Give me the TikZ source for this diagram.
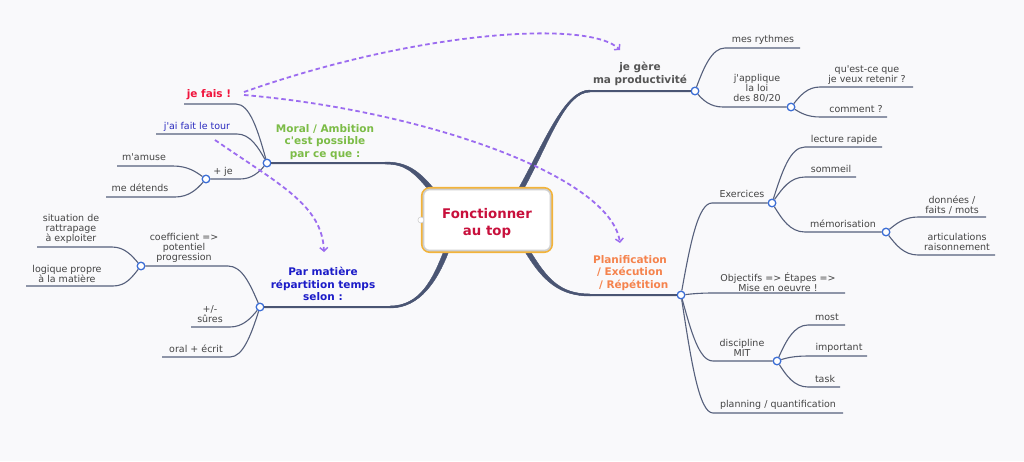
\documentclass[tikz,border=0pt]{standalone}
\usepackage{fontspec}
\setmainfont{DejaVu Sans}
\usetikzlibrary{arrows.meta}
\definecolor{bgc}{RGB}{249,249,251}
\definecolor{linec}{RGB}{86,96,124}
\definecolor{trunkc}{RGB}{74,85,115}
\definecolor{hubc}{RGB}{61,111,214}
\definecolor{txtc}{RGB}{68,68,68}
\definecolor{gerec}{RGB}{85,85,85}
\definecolor{planc}{RGB}{245,131,77}
\definecolor{moralc}{RGB}{124,188,71}
\definecolor{parc}{RGB}{28,28,200}
\definecolor{jefaisc}{RGB}{240,20,60}
\definecolor{tourc}{RGB}{43,43,191}
\definecolor{ctrtc}{RGB}{200,16,60}
\definecolor{boxorange}{RGB}{242,179,58}
\definecolor{boxgrey}{RGB}{207,207,207}
\definecolor{purp}{RGB}{156,108,240}
\newcommand{\aps}{\textquotesingle}
\begin{document}
\begin{tikzpicture}[x=1pt,y=-1pt,
  leaf/.style={draw=linec, line width=1.1pt},
  trunk/.style={draw=trunkc, line width=2pt, line cap=round},
  taper/.style={fill=trunkc, draw=trunkc, line width=0.4pt},
  hub/.style={circle, draw=hubc, fill=white, line width=0.9pt, minimum size=8pt, inner sep=0pt},
  lf/.style={text=txtc, font=\fontsize{9.5}{9.9}\selectfont, align=center, inner sep=0pt},
  mainlbl/.style={font=\bfseries\fontsize{10.5}{12.6}\selectfont, align=center, inner sep=0pt},
  dasharrow/.style={draw=purp, line width=1.8pt, dash pattern=on 4.5pt off 3pt,
    -{Straight Barb[length=3.5pt,width=8pt,line width=1.5pt]}}
]
\fill[bgc] (0,0) rectangle (1024,461);
\useasboundingbox (0,0) rectangle (1024,461);

% hubs
\node[hub] (HG) at (695,91) {};
\node[hub] (HA) at (791,107) {};
\node[hub] (HP) at (681,295) {};
\node[hub] (HE) at (772,203) {};
\node[hub] (HMe) at (886,232) {};
\node[hub] (HD) at (777,361) {};
\node[hub] (HM) at (267,163) {};
\node[hub] (HJ) at (206,179) {};
\node[hub] (HR) at (260,307) {};
\node[hub] (HC) at (141,266) {};

% trunk coordinates
\coordinate (tUL) at (431,189);
\coordinate (mUL) at (385,163);
\coordinate (tUR) at (521,189);
\coordinate (mUR) at (590,91);
\coordinate (tLR) at (528,252);
\coordinate (mLR) at (590,295);
\coordinate (tLL) at (446,252);
\coordinate (mLL) at (390,307);

% trunk connectors (centre lines)
\draw[trunk] (tUL) .. controls (415,170) and (405,163) .. (mUL) -- (HM);
\draw[trunk] (tUR) .. controls (548,140) and (565,91) .. (mUR) -- (HG);
\draw[trunk] (tLR) .. controls (545,280) and (560,295) .. (mLR) -- (HP);
\draw[trunk] (tLL) .. controls (435,280) and (420,307) .. (mLL) -- (HR);
% tapered thickening towards the central box
\filldraw[taper] (432.84,187.45) .. controls (416.84,168.45) and (405,162) .. (385,162)
  -- (385,164) .. controls (405,164) and (413.16,171.55) .. (429.16,190.55) -- cycle;
\filldraw[taper] (523.1,190.16) .. controls (550.1,141.16) and (565,92) .. (590,92)
  -- (590,90) .. controls (565,90) and (545.9,138.84) .. (518.9,187.84) -- cycle;
\filldraw[taper] (525.95,253.24) .. controls (542.95,281.24) and (560,296) .. (590,296)
  -- (590,294) .. controls (560,294) and (547.05,278.76) .. (530.05,250.76) -- cycle;
\filldraw[taper] (443.77,251.12) .. controls (432.77,279.12) and (420,306) .. (390,306)
  -- (390,308) .. controls (420,308) and (437.23,280.88) .. (448.23,252.88) -- cycle;

% central box
\node[draw=boxorange, line width=2.2pt, fill=white, rounded corners=8pt,
  minimum width=130pt, minimum height=64pt, inner sep=0pt] (ctr) at (487,220) {};
\draw[boxgrey, line width=1.6pt, rounded corners=6pt]
  ([shift={(2.6,2.6)}]ctr.north west) rectangle ([shift={(-2.6,-2.6)}]ctr.south east);
\node[circle, fill=white, draw=boxgrey, line width=0.6pt, minimum size=6pt, inner sep=0pt] (ctrdot) at (ctr.west) {};
\node[text=ctrtc, font=\bfseries\fontsize{13.3}{17}\selectfont, align=center, inner sep=0pt] (ctrtxt) at (487,223) {Fonctionner\\au top};

% main labels
\node[mainlbl, text=gerec] (lgere) at (640,74) {je gère\\ma productivité};
\node[mainlbl, text=planc] (lplan) at (630,273) {Planification\\/ Exécution\\\ \ / Répétition};
\node[mainlbl, text=moralc] (lmoral) at (325,142) {Moral / Ambition\\c\aps est possible\\par ce que :};
\node[mainlbl, text=parc] (lpar) at (323,284) {Par matière\\répartition temps\\selon :};

% ---------- upper right ----------
\coordinate (s1) at (725,48); \coordinate (e1) at (800,48);
\draw[leaf] (HG) .. controls +(9,-24) and +(-13,0) .. (s1) -- (e1);
\node[lf] (t1) at (763,40) {mes rythmes};
\coordinate (s2) at (723,107);
\draw[leaf] (HG) .. controls +(8,9) and +(-13,0) .. (s2) -- (HA);
\node[lf] (t2) at (757,88) {j\aps applique\\la loi\\des 80/20};
\coordinate (s3) at (820,87); \coordinate (e3) at (913,87);
\draw[leaf] (HA) .. controls +(9,-11) and +(-13,0) .. (s3) -- (e3);
\node[lf] (t3) at (867,75) {qu\aps est-ce que\\je veux retenir ?};
\coordinate (s4) at (820,117); \coordinate (e4) at (887,117);
\draw[leaf] (HA) .. controls +(9,5.5) and +(-13,0) .. (s4) -- (e4);
\node[lf] (t4) at (856,109) {comment ?};

% ---------- lower right ----------
\coordinate (s5) at (712,203);
\draw[leaf] (HP) .. controls +(9,-50) and +(-14,0) .. (s5) -- (HE);
\node[lf] (t5) at (742,194) {Exercices};
\coordinate (s6) at (713,293); \coordinate (e6) at (845,293);
\draw[leaf] (HP) .. controls +(10,-1) and +(-14,0) .. (s6) -- (e6);
\node[lf] (t6) at (778,282) {Objectifs => Étapes =>\\Mise en oeuvre !};
\coordinate (s7) at (713,361);
\draw[leaf] (HP) .. controls +(10,36) and +(-14,0) .. (s7) -- (HD);
\node[lf] (t7) at (742,348) {discipline\\MIT};
\coordinate (s8) at (713,413); \coordinate (e8) at (843,413);
\draw[leaf] (HP) .. controls +(10,65) and +(-14,0) .. (s8) -- (e8);
\node[lf] (t8) at (778,405) {planning / quantification};

\coordinate (s9) at (805,147); \coordinate (e9) at (882,147);
\draw[leaf] (HE) .. controls +(10,-31) and +(-15,0) .. (s9) -- (e9);
\node[lf] (t9) at (844,140) {lecture rapide};
\coordinate (s10) at (805,177); \coordinate (e10) at (856,177);
\draw[leaf] (HE) .. controls +(10,-14) and +(-15,0) .. (s10) -- (e10);
\node[lf] (t10) at (831,169) {sommeil};
\coordinate (s11) at (805,232);
\draw[leaf] (HE) .. controls +(10,16) and +(-15,0) .. (s11) -- (HMe);
\node[lf] (t11) at (843,224) {mémorisation};

\coordinate (s12) at (918,217); \coordinate (e12) at (986,217);
\draw[leaf] (HMe) .. controls +(10,-8) and +(-14,0) .. (s12) -- (e12);
\node[lf] (t12) at (952,205) {données /\\faits / mots};
\coordinate (s13) at (918,255); \coordinate (e13) at (995,255);
\draw[leaf] (HMe) .. controls +(10,13) and +(-14,0) .. (s13) -- (e13);
\node[lf] (t13) at (957,242) {articulations\\raisonnement};

\coordinate (s14) at (808,325); \coordinate (e14) at (845,325);
\draw[leaf] (HD) .. controls +(9,-20) and +(-14,0) .. (s14) -- (e14);
\node[lf] (t14) at (827,317) {most};
\coordinate (s15) at (808,356); \coordinate (e15) at (867,356);
\draw[leaf] (HD) .. controls +(9,-3) and +(-14,0) .. (s15) -- (e15);
\node[lf] (t15) at (839,348) {important};
\coordinate (s16) at (808,387); \coordinate (e16) at (840,387);
\draw[leaf] (HD) .. controls +(9,14) and +(-14,0) .. (s16) -- (e16);
\node[lf] (t16) at (825,379) {task};

% ---------- upper left ----------
\coordinate (s17) at (236,104); \coordinate (e17) at (184,104);
\draw[leaf] (HM) .. controls +(-9,-32) and +(14,0) .. (s17) -- (e17);
\node[inner sep=0pt, text=jefaisc, font=\bfseries\fontsize{10.5}{12.6}\selectfont] (t17) at (209,95) {je fais !};
\coordinate (s18) at (237,134); \coordinate (e18) at (156,134);
\draw[leaf] (HM) .. controls +(-9,-16) and +(13,0) .. (s18) -- (e18);
\node[lf, text=tourc] (t18) at (197,127) {j\aps ai fait le tour};
\coordinate (s19) at (240,179);
\draw[leaf] (HM) .. controls +(-8,9) and +(12,0) .. (s19) -- (HJ);
\node[lf] (t19) at (223,172) {+ je};
\coordinate (s20) at (173,166); \coordinate (e20) at (117,166);
\draw[leaf] (HJ) .. controls +(-10,-7) and +(15,0) .. (s20) -- (e20);
\node[lf] (t20) at (144,157) {m\aps amuse};
\coordinate (s21) at (175,197); \coordinate (e21) at (106,197);
\draw[leaf] (HJ) .. controls +(-9,10) and +(14,0) .. (s21) -- (e21);
\node[lf] (t21) at (140,188) {me détends};

% ---------- lower left ----------
\coordinate (s22) at (228,266);
\draw[leaf] (HR) .. controls +(-10,-23) and +(14,0) .. (s22) -- (HC);
\node[lf] (t22) at (184,248) {coefficient =>\\potentiel\\progression};
\coordinate (s23) at (230,327); \coordinate (e23) at (191,327);
\draw[leaf] (HR) .. controls +(-9,11) and +(13,0) .. (s23) -- (e23);
\node[lf] (t23) at (210,314) {+/-\\sûres};
\coordinate (s24) at (230,357); \coordinate (e24) at (162,357);
\draw[leaf] (HR) .. controls +(-9,28) and +(13,0) .. (s24) -- (e24);
\node[lf] (t24) at (196,349) {oral + écrit};
\coordinate (s25) at (112,247); \coordinate (e25) at (37,247);
\draw[leaf] (HC) .. controls +(-9,-10) and +(13,0) .. (s25) -- (e25);
\node[lf] (t25) at (71,229) {situation de\\rattrapage\\à exploiter};
\coordinate (s26) at (113,286); \coordinate (e26) at (26,286);
\draw[leaf] (HC) .. controls +(-9,11) and +(13,0) .. (s26) -- (e26);
\node[lf] (t26) at (67,274) {logique propre\\à la matière};

% hubs drawn again on top of the connectors
\foreach \h in {HG,HA,HP,HE,HMe,HD,HM,HJ,HR,HC}{
  \fill[white] (\h) circle (3.1pt);
  \draw[hubc, line width=0.9pt] (\h) circle (3.6pt);
}

% dashed relation arrows
\coordinate (jf1) at (244,92);
\coordinate (jf2) at (244,95);
\coordinate (arrA) at (620,50);
\coordinate (arrB) at (620,243);
\coordinate (tr1) at (215,140);
\coordinate (arrC) at (324,252);
\draw[dasharrow] (jf1) .. controls (420,30) and (590,20) .. (arrA);
\draw[dasharrow] (jf2) .. controls (420,110) and (610,175) .. (arrB);
\draw[dasharrow] (tr1) .. controls (280,185) and (322,205) .. (arrC);
\end{tikzpicture}
\end{document}
